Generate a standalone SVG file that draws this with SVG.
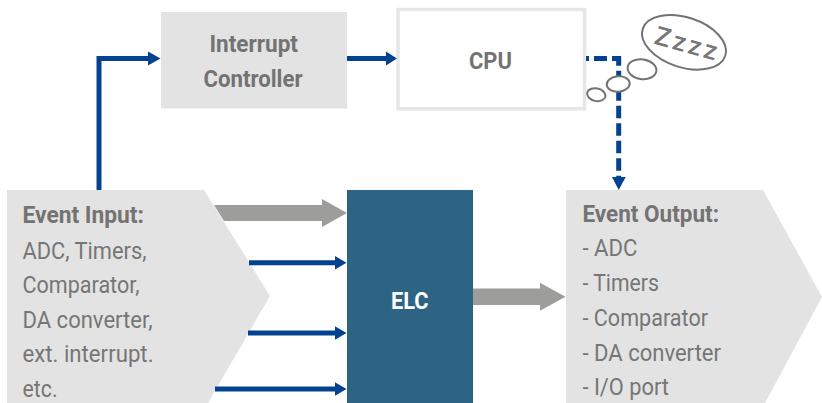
<svg xmlns="http://www.w3.org/2000/svg" width="822" height="403" viewBox="0 0 822 403">
<style>
text{font-family:"Roboto","Liberation Sans",sans-serif;fill:#767676;font-size:24px}
.b{font-weight:700;fill:#737373}
.box{fill:#e3e3e3}
.blue{fill:none;stroke:#03428f;stroke-width:5}
.head{fill:#03428f}
.gray{fill:#9d9d9b}
.bub{fill:#fff;stroke:#737373;stroke-width:2}
</style>
<g id="event-input"><polygon class="box" points="7,190 204,190 270,296 208,403 7,403"/>
<text class="b" x="22.500" y="223" textLength="121.500" lengthAdjust="spacingAndGlyphs">Event Input:</text>
<text x="22.500" y="258.500" textLength="124" lengthAdjust="spacingAndGlyphs">ADC, Timers,</text>
<text x="22.500" y="293" textLength="117" lengthAdjust="spacingAndGlyphs">Comparator,</text>
<text x="22.500" y="327.500" textLength="130" lengthAdjust="spacingAndGlyphs">DA converter,</text>
<text x="22.500" y="362" textLength="131" lengthAdjust="spacingAndGlyphs">ext. interrupt.</text>
<text x="22.500" y="397" textLength="35" lengthAdjust="spacingAndGlyphs">etc.</text></g>
<g id="interrupt-controller"><rect class="box" x="161" y="12" width="186" height="96.500"/>
<text class="b" x="209.500" y="51.500" textLength="88.500" lengthAdjust="spacingAndGlyphs">Interrupt</text>
<text class="b" x="203.500" y="86.500" textLength="99" lengthAdjust="spacingAndGlyphs">Controller</text></g>
<g id="cpu"><rect x="398" y="9.500" width="186.500" height="99.300" fill="#fff" stroke="#e6e6e6" stroke-width="3.500"/>
<text class="b" x="469" y="69" textLength="43" lengthAdjust="spacingAndGlyphs">CPU</text></g>
<g id="elc"><rect x="347" y="190" width="126" height="213" fill="#2e6483"/>
<text class="b" x="391" y="309" textLength="37.500" lengthAdjust="spacingAndGlyphs" style="fill:#fff">ELC</text></g>
<g id="event-output"><polygon class="box" points="566,190 763,190 822,297 765,403 566,403"/>
<text class="b" x="582.500" y="221.500" textLength="136.500" lengthAdjust="spacingAndGlyphs">Event Output:</text>
<text x="582.500" y="256" textLength="55" lengthAdjust="spacingAndGlyphs">- ADC</text>
<text x="582.500" y="291" textLength="76.500" lengthAdjust="spacingAndGlyphs">- Timers</text>
<text x="582.500" y="325.500" textLength="125.500" lengthAdjust="spacingAndGlyphs">- Comparator</text>
<text x="582.500" y="360.500" textLength="138.500" lengthAdjust="spacingAndGlyphs">- DA converter</text>
<text x="582.500" y="395" textLength="86.500" lengthAdjust="spacingAndGlyphs">- I/O port</text></g>
<g id="connectors">
<path class="blue" d="M99 190V58.500H149"/><polygon class="head" points="148,51.500 160.500,58.500 148,65.500"/>
<path class="blue" d="M347 58.500H387"/><polygon class="head" points="386,51.500 397,58.500 386,65.500"/>
<path class="blue" stroke-dasharray="3 5 13 5 14 5 12.500 5 12.500 5 12.500 5 12.500 5 12.500 5 12.500 5 12.500 5 3" d="M586 58.500H618.700V178"/><polygon class="head" points="612,177 618.700,190 625.700,177"/>
<polygon class="gray" points="214,205 322,205 322,199 347,213 322,227 322,221 224,221"/>
<path class="blue" d="M249 262.700H336"/><polygon class="head" points="335,256 346.500,262.700 335,269.400"/>
<path class="blue" d="M248 333H336"/><polygon class="head" points="335,326.300 346.500,333 335,339.700"/>
<path class="blue" d="M215 389H336"/><polygon class="head" points="335,382.300 346.500,389 335,395.700"/>
<polygon class="gray" points="473,288.500 540,288.500 540,282.700 565.500,296.700 540,310.700 540,305 473,305"/>
</g>
<g id="thought">
<ellipse class="bub" cx="684" cy="42.300" rx="43.400" ry="25" transform="rotate(18 684 42.300)"/>
<ellipse class="bub" cx="642" cy="69.200" rx="14.500" ry="9.800" transform="rotate(8 642 69.200)"/>
<ellipse class="bub" cx="618.200" cy="84" rx="11.500" ry="7.700" transform="rotate(-5 618.200 84)"/>
<ellipse class="bub" cx="596.300" cy="94.700" rx="9.300" ry="6.300" transform="rotate(12 596.300 94.700)"/>
<text transform="translate(653 43.500) rotate(15.500)" textLength="64" style="font-size:26px;font-weight:500">Zzzz</text>
</g>
</svg>
